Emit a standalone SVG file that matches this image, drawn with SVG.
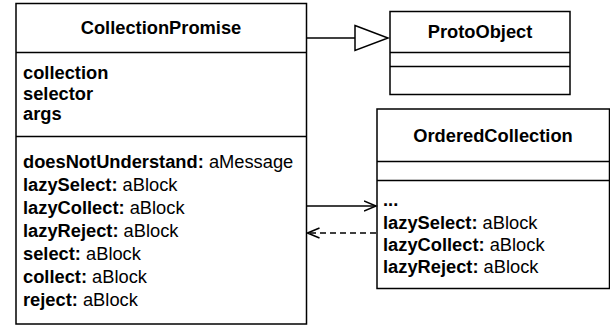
<svg xmlns="http://www.w3.org/2000/svg" width="610" height="329" viewBox="0 0 610 329">
<style>
.box{fill:#fff;stroke:#000;stroke-width:1.5}
.sep{stroke:#000;stroke-width:1.5}
text{font-family:"Liberation Sans",Arial,Helvetica,sans-serif;font-size:18.3px;fill:#000}
.b{font-weight:bold}
.t{font-weight:bold;text-anchor:middle}
.edge{fill:none;stroke:#000;stroke-width:1.5}
</style>
<defs>
<marker id="open" markerWidth="14" markerHeight="14" refX="12" refY="6" orient="auto" markerUnits="userSpaceOnUse">
<path d="M0,1 L12,6 L0,11" fill="none" stroke="#000" stroke-width="1.5"/>
</marker>
</defs>
<rect width="610" height="329" fill="#fff"/>
<g id="CollectionPromise">
<rect class="box" x="16" y="3.5" width="290.5" height="320.5"/>
<line class="sep" x1="16" y1="52.5" x2="306.5" y2="52.5"/>
<line class="sep" x1="16" y1="136.5" x2="306.5" y2="136.5"/>
<text class="t" x="161" y="33.5">CollectionPromise</text>
<text class="b" x="23" y="79">collection</text>
<text class="b" x="23" y="100">selector</text>
<text class="b" x="23" y="120">args</text>
<text x="23" y="168"><tspan class="b">doesNotUnderstand:</tspan> aMessage</text>
<text x="23" y="191"><tspan class="b">lazySelect:</tspan> aBlock</text>
<text x="23" y="214"><tspan class="b">lazyCollect:</tspan> aBlock</text>
<text x="23" y="237"><tspan class="b">lazyReject:</tspan> aBlock</text>
<text x="23" y="260"><tspan class="b">select:</tspan> aBlock</text>
<text x="23" y="283"><tspan class="b">collect:</tspan> aBlock</text>
<text x="23" y="306"><tspan class="b">reject:</tspan> aBlock</text>
</g>
<g id="ProtoObject">
<rect class="box" x="390" y="11.5" width="180" height="83"/>
<line class="sep" x1="390" y1="52.5" x2="570" y2="52.5"/>
<line class="sep" x1="390" y1="66.5" x2="570" y2="66.5"/>
<text class="t" x="480" y="37.5">ProtoObject</text>
</g>
<g id="OrderedCollection">
<rect class="box" x="377" y="109" width="232.5" height="179.5"/>
<line class="sep" x1="377" y1="161.5" x2="609.5" y2="161.5"/>
<line class="sep" x1="377" y1="180.5" x2="609.5" y2="180.5"/>
<text class="t" x="493" y="141.5">OrderedCollection</text>
<text class="b" x="383" y="206">...</text>
<text x="383" y="228.5"><tspan class="b">lazySelect:</tspan> aBlock</text>
<text x="383" y="250.5"><tspan class="b">lazyCollect:</tspan> aBlock</text>
<text x="383" y="272.5"><tspan class="b">lazyReject:</tspan> aBlock</text>
</g>
<g id="connectors">
<line class="edge" x1="306.5" y1="38" x2="355" y2="38"/>
<path class="edge" d="M355,25.5 L388,38 L355,50.5 Z"/>
<line class="edge" x1="306.5" y1="206" x2="376" y2="206" marker-end="url(#open)"/>
<line class="edge" x1="376" y1="233" x2="307.5" y2="233" stroke-dasharray="6,4" marker-end="url(#open)"/>
</g>
</svg>
